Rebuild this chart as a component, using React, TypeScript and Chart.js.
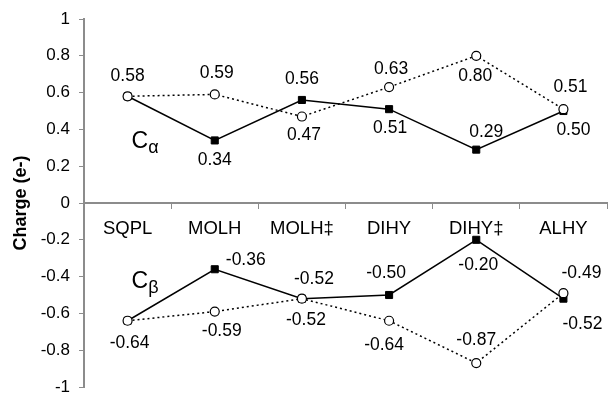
import React, { useEffect, useRef } from "react";
import { Chart, registerables } from "chart.js";

Chart.register(...registerables);

// ---- data ----
const categories = ["SQPL", "MOLH", "MOLH‡", "DIHY", "DIHY‡", "ALHY"];
const alphaSolid = [0.58, 0.34, 0.56, 0.51, 0.29, 0.5];
const alphaDotted = [0.58, 0.59, 0.47, 0.63, 0.8, 0.51];
const betaSolid = [-0.64, -0.36, -0.52, -0.5, -0.2, -0.52];
const betaDotted = [-0.64, -0.59, -0.52, -0.64, -0.87, -0.49];
const yMin = -1;
const yMax = 1;
const yStep = 0.2;
const yTitle = "Charge (e-)";
const seriesTags = [
  { main: "C", sub: "α", at: 0.3 },
  { main: "C", sub: "β", at: -0.46 },
];

// ---- label placements (pixel offsets from each point; null = no label) ----
type Off = [number, number] | null;
const alphaSolidOff: Off[] = [[0, -20], [0, 20], [0, -21], [1, 19], [10, -17], [10, 19]];
const alphaDottedOff: Off[] = [null, [2, -21], [2, 19], [2, -18], [-1, 20], [7, -22]];
const betaSolidOff: Off[] = [[2, 22], [31, -9], [12, -20], [-3, -22], [2, 25], [19, 25]];
const betaDottedOff: Off[] = [null, [7, 20], [4, 21], [-5, 24], [0, -23], [18, -20]];

const FONT = "'Liberation Sans', Arial, sans-serif";
const AXIS_GRAY = "#8c8c8c";

function fmt(v: number): string {
  return (Math.round(v * 100) / 100).toFixed(2);
}

const labelPlugin = {
  id: "pointLabels",
  afterDatasetsDraw(chart: any) {
    const ctx = chart.ctx;
    ctx.save();
    ctx.fillStyle = "#000";
    ctx.font = `17.5px ${FONT}`;
    ctx.textAlign = "center";
    ctx.textBaseline = "middle";
    chart.data.datasets.forEach((ds: any, di: number) => {
      const meta = chart.getDatasetMeta(di);
      const offs: Off[] = ds.labelOffsets || [];
      meta.data.forEach((pt: any, i: number) => {
        const o = offs[i];
        if (!o) return;
        ctx.fillText(fmt(ds.data[i]), pt.x + o[0], pt.y + o[1]);
      });
    });
    // series tags (Cα, Cβ)
    const xs = chart.scales.x;
    const ys = chart.scales.y;
    const x0 = xs.getPixelForValue(0) + 4;
    seriesTags.forEach((t) => {
      const yb = ys.getPixelForValue(t.at);
      ctx.textAlign = "left";
      ctx.textBaseline = "alphabetic";
      ctx.font = `23px ${FONT}`;
      ctx.fillText(t.main, x0, yb);
      const w = ctx.measureText(t.main).width;
      ctx.font = `18px ${FONT}`;
      ctx.fillText(t.sub, x0 + w, yb + 5);
    });
    ctx.restore();
  },
};

export default function App() {
  const ref = useRef<HTMLCanvasElement | null>(null);
  useEffect(() => {
    document.body.style.margin = "0";
    const canvas = ref.current!;
    const solid = (data: number[], offs: Off[]) => ({
      data,
      labelOffsets: offs,
      borderColor: "#000",
      borderWidth: 1.5,
      pointStyle: "rect",
      pointRadius: 5,
      pointBackgroundColor: "#000",
      pointBorderColor: "#000",
      pointBorderWidth: 1,
      tension: 0,
    });
    const dotted = (data: number[], offs: Off[]) => ({
      data,
      labelOffsets: offs,
      borderColor: "#000",
      borderWidth: 1.5,
      borderDash: [2, 3],
      pointStyle: "circle",
      pointRadius: 4.5,
      pointBackgroundColor: "#fff",
      pointBorderColor: "#000",
      pointBorderWidth: 1.2,
      tension: 0,
    });
    const chart = new Chart(canvas, {
      type: "line",
      data: {
        labels: categories,
        datasets: [
          dotted(alphaDotted, alphaDottedOff),
          dotted(betaDotted, betaDottedOff),
          solid(alphaSolid, alphaSolidOff),
          solid(betaSolid, betaSolidOff),
        ] as any,
      },
      options: {
        responsive: false,
        animation: false,
        layout: { padding: { top: 19, bottom: 5, left: 0, right: 0 } },
        plugins: { legend: { display: false }, tooltip: { enabled: false } },
        scales: {
          x: {
            type: "category",
            position: { y: 0 } as any,
            offset: true,
            grid: {
              display: true,
              drawOnChartArea: false,
              drawTicks: true,
              tickLength: 5,
              color: AXIS_GRAY,
              offset: true,
              lineWidth: 1,
            },
            border: { display: true, color: AXIS_GRAY, width: 2 },
            ticks: {
              color: "#000",
              font: { family: FONT, size: 18.5 },
              padding: 10,
              maxRotation: 0,
              autoSkip: false,
            },
            afterFit: (s: any) => {
              s.height = 0;
              s.paddingLeft = 0;
              s.paddingRight = 0;
            },
          },
          y: {
            min: yMin,
            max: yMax,
            grid: {
              display: true,
              drawOnChartArea: false,
              drawTicks: true,
              tickLength: 5,
              color: AXIS_GRAY,
              lineWidth: 1,
            },
            border: { display: true, color: AXIS_GRAY, width: 2 },
            ticks: {
              stepSize: yStep,
              color: "#000",
              font: { family: FONT, size: 17 },
              padding: 9,
              callback: (v: any) => String(Math.round(Number(v) * 10) / 10),
            },
            title: {
              display: true,
              text: yTitle,
              color: "#000",
              font: { family: FONT, size: 18, weight: "bold" },
              padding: { top: 10, bottom: 0 },
            },
            afterFit: (s: any) => {
              s.width = 84;
              s.paddingTop = 0;
              s.paddingBottom = 0;
            },
          },
        },
      } as any,
      plugins: [labelPlugin],
    });
    return () => chart.destroy();
  }, []);
  return <canvas ref={ref} width={613} height={393} style={{ display: "block" }} />;
}
